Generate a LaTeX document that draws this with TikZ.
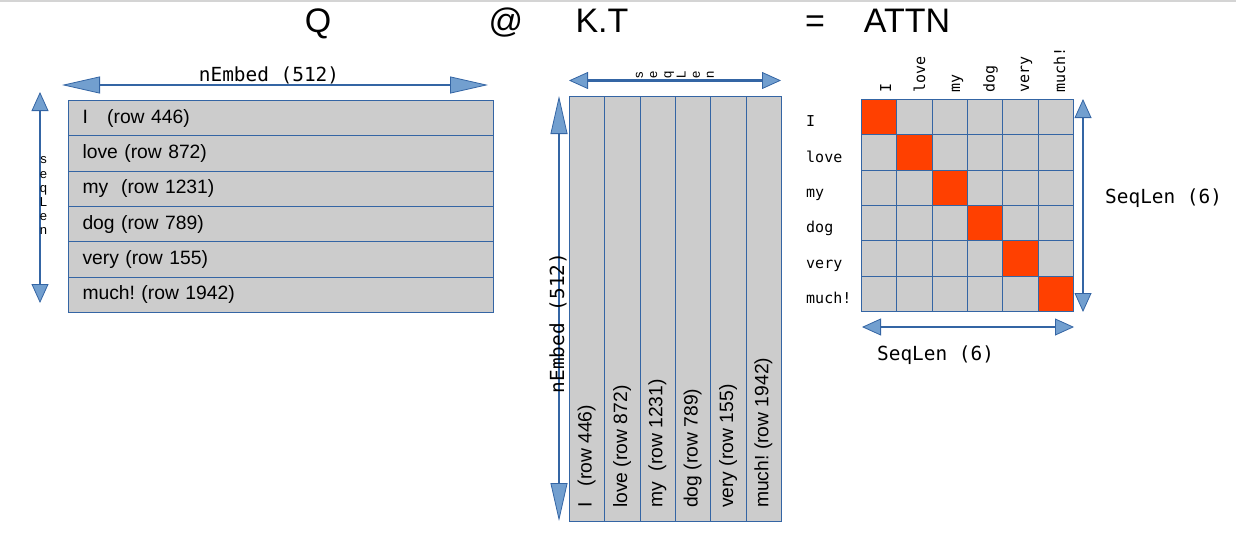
\documentclass[tikz,border=0pt]{standalone}
\usepackage{fontspec}
\setmainfont{Liberation Sans}
\newfontfamily\monof{DejaVu Sans Mono}
\usetikzlibrary{arrows.meta}
\frenchspacing
\definecolor{cellgray}{HTML}{CCCCCC}
\definecolor{lineblue}{HTML}{3465A4}
\definecolor{headblue}{HTML}{729FCF}
\definecolor{hot}{HTML}{FF4000}
\definecolor{topgray}{HTML}{D4D4D4}
\tikzset{
  titletext/.style={font=\fontsize{34}{40}\selectfont, anchor=base, inner sep=0pt},
  cell/.style={draw=lineblue, line width=1pt, fill=cellgray, inner sep=0pt},
  qrow/.style={cell, anchor=north west, minimum width=425pt, minimum height=35.33pt,
     text width=397pt, inner xsep=14pt, align=left, font=\fontsize{19.3}{22}\selectfont},
  kcol/.style={cell, anchor=north west, minimum width=35.33pt, minimum height=425pt},
  ktext/.style={rotate=90, anchor=west, inner sep=0pt, font=\fontsize{19.3}{22}\selectfont},
  acell/.style={cell, anchor=north west, minimum width=35.33pt, minimum height=35.33pt},
  hotcell/.style={acell, fill=hot},
  monolabel/.style={font=\monof\fontsize{19.4}{22}\selectfont, inner sep=0pt},
  smalllabel/.style={font=\monof\fontsize{15}{18}\selectfont, inner sep=0pt},
  stacklabel/.style={font=\fontsize{13}{14.2}\selectfont, align=center, inner sep=0pt},
  longdim/.style={draw=lineblue, line width=2.6pt,
     {Triangle[length=38pt, width=17pt, line width=0.8pt, fill=headblue]}-{Triangle[length=38pt, width=17pt, line width=0.8pt, fill=headblue]}},
  shortdim/.style={draw=lineblue, line width=2.6pt,
     {Triangle[length=19pt, width=17pt, line width=0.8pt, fill=headblue]}-{Triangle[length=19pt, width=17pt, line width=0.8pt, fill=headblue]}},
}
\begin{document}
\begin{tikzpicture}[x=1pt, y=-1pt]
\useasboundingbox (0,0) rectangle (1236,533);
\draw[topgray, line width=2pt] (0,1) -- (1236,1);

% titles
\node[titletext] (tq) at (318,32) {Q};
\node[titletext] (tat) at (506,32) {@};
\node[titletext] (tk) at (602,32) {K.T};
\node[titletext] (teq) at (815,32) {=};
\node[titletext] (tattn) at (907,32) {ATTN};

% Q matrix
\node[qrow] (q0) at (68,100) {I\ \ \ (row 446)};
\node[qrow] (q1) at (68,135.33) {love (row 872)};
\node[qrow] (q2) at (68,170.67) {my\ \ (row 1231)};
\node[qrow] (q3) at (68,206) {dog (row 789)};
\node[qrow] (q4) at (68,241.33) {very (row 155)};
\node[qrow] (q5) at (68,276.67) {much! (row 1942)};

\coordinate (qhl) at (62,85);
\coordinate (qhr) at (488,85);
\draw[longdim] (qhl) -- (qhr);
\node[monolabel, anchor=base] (qhlab) at (269,81) {nEmbed (512)};

\coordinate (qvt) at (40,92);
\coordinate (qvb) at (40,303);
\draw[shortdim] (qvt) -- (qvb);
\node[stacklabel] (qvlab) at (43.5,196) {s\\e\\q\\L\\e\\n};

% K.T matrix
\foreach \i in {0,...,5} {
  \node[kcol] (k\i) at ({569+35.33*\i},96) {};
}
\node[ktext] (kt0) at (586.7,508) {I\ \ \ (row 446)};
\node[ktext] (kt1) at (622,508) {love (row 872)};
\node[ktext] (kt2) at (657.3,508) {my\ \ (row 1231)};
\node[ktext] (kt3) at (692.7,508) {dog (row 789)};
\node[ktext] (kt4) at (728,508) {very (row 155)};
\node[ktext] (kt5) at (763.3,508) {much! (row 1942)};

\coordinate (khl) at (569,80.5);
\coordinate (khr) at (781,80.5);
\draw[shortdim] (khl) -- (khr);
\node[stacklabel, rotate=90] (khlab) at (675,75) {s\\e\\q\\L\\e\\n};

\coordinate (kvt) at (559,96);
\coordinate (kvb) at (559,521);
\draw[longdim] (kvt) -- (kvb);
\node[monolabel, rotate=90, anchor=base] (kvlab) at (564,323) {nEmbed (512)};

% ATTN matrix
\foreach \r in {0,...,5} {
  \foreach \c in {0,...,5} {
    \ifnum\r=\c
      \node[hotcell] (a\r\c) at ({861+35.33*\c},{99+35.33*\r}) {};
    \else
      \node[acell] (a\r\c) at ({861+35.33*\c},{99+35.33*\r}) {};
    \fi
  }
}
\node[smalllabel, anchor=base west] (ar0) at (806,126.7) {I};
\node[smalllabel, anchor=base west] (ar1) at (806,162) {love};
\node[smalllabel, anchor=base west] (ar2) at (806,197.3) {my};
\node[smalllabel, anchor=base west] (ar3) at (806,232.7) {dog};
\node[smalllabel, anchor=base west] (ar4) at (806,268) {very};
\node[smalllabel, anchor=base west] (ar5) at (806,303.3) {much!};

\node[smalllabel, rotate=90, anchor=base west] (ac0) at (891,93) {I};
\node[smalllabel, rotate=90, anchor=base west] (ac1) at (925,93) {love};
\node[smalllabel, rotate=90, anchor=base west] (ac2) at (960,93) {my};
\node[smalllabel, rotate=90, anchor=base west] (ac3) at (994.5,93) {dog};
\node[smalllabel, rotate=90, anchor=base west] (ac4) at (1029,93) {very};
\node[smalllabel, rotate=90, anchor=base west] (ac5) at (1065,93) {much!};

\coordinate (avt) at (1083,99);
\coordinate (avb) at (1083,312);
\draw[shortdim] (avt) -- (avb);
\node[monolabel, anchor=base west] (avlab) at (1105,203) {SeqLen (6)};

\coordinate (ahl) at (862,327);
\coordinate (ahr) at (1074,327);
\draw[shortdim] (ahl) -- (ahr);
\node[monolabel, anchor=base west] (ahlab) at (877,360) {SeqLen (6)};
\end{tikzpicture}
\end{document}
